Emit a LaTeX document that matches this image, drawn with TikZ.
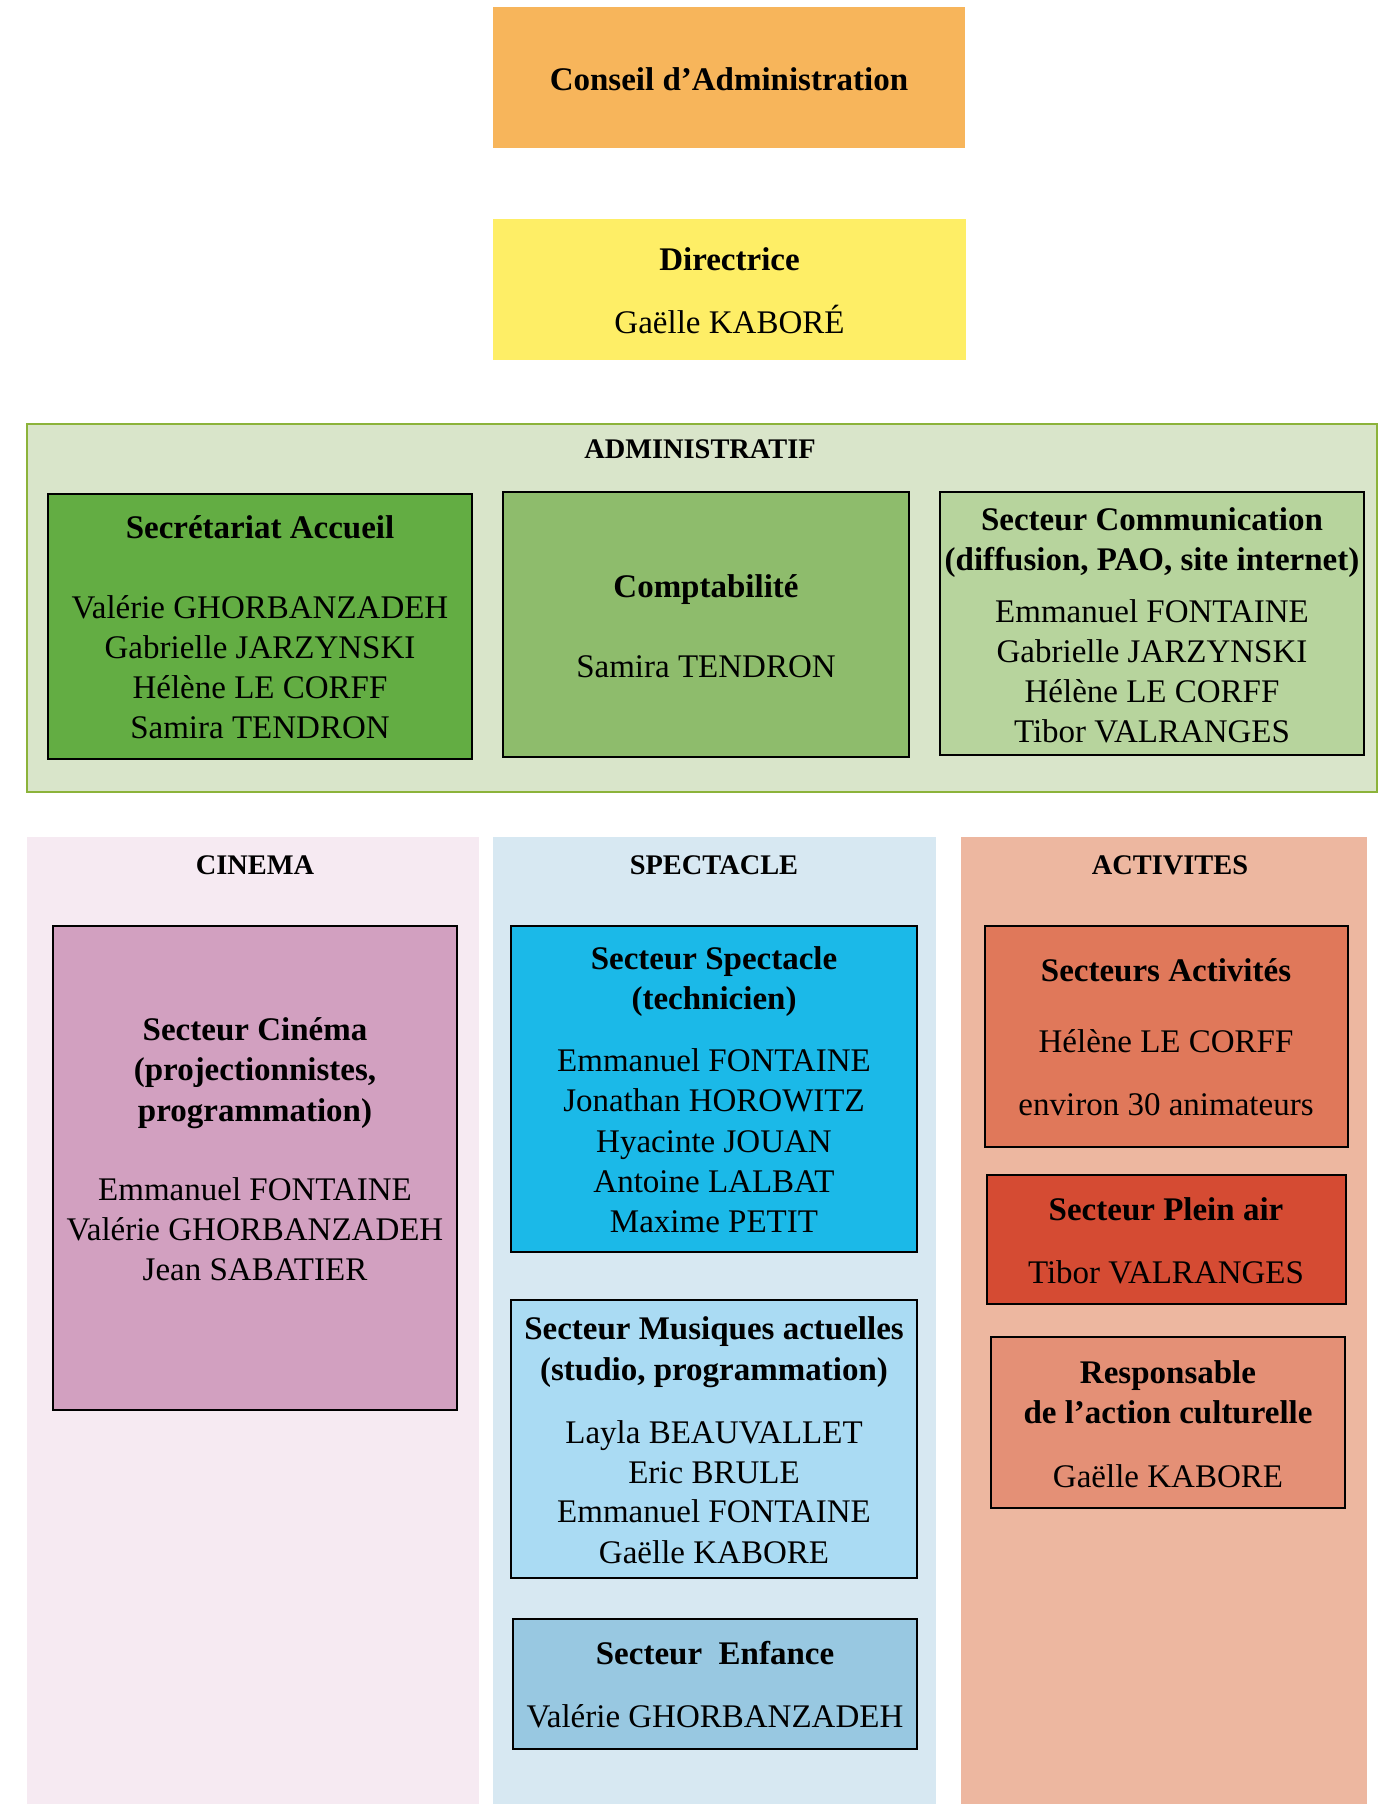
\documentclass[tikz,border=0pt]{standalone}
\usepackage{fontspec}
\setmainfont{Liberation Serif}
\usetikzlibrary{fit}
\definecolor{cConseil}{HTML}{F7B55B}
\definecolor{cDir}{HTML}{FEEE66}
\definecolor{cAdminBg}{HTML}{D9E5CA}
\definecolor{cAdminBd}{HTML}{8CB33A}
\definecolor{cSecr}{HTML}{63AD43}
\definecolor{cCompta}{HTML}{8EBC6C}
\definecolor{cComm}{HTML}{B7D49D}
\definecolor{cCinBg}{HTML}{F6EAF2}
\definecolor{cCin}{HTML}{D2A0C0}
\definecolor{cSpeBg}{HTML}{D7E8F2}
\definecolor{cSpe}{HTML}{1BB9E8}
\definecolor{cMus}{HTML}{AADBF3}
\definecolor{cEnf}{HTML}{98C8E1}
\definecolor{cActBg}{HTML}{EDB7A0}
\definecolor{cAct}{HTML}{E0785A}
\definecolor{cPlein}{HTML}{D54B33}
\definecolor{cResp}{HTML}{E49076}
\tikzset{
  x=0.5pt, y=-0.5pt,
  area/.style={inner sep=0pt, outer sep=0pt, draw=none},
  box/.style={inner sep=0pt, outer sep=0pt, draw=black, line width=1pt},
  ttl/.style={font=\bfseries\fontsize{16.5}{20}\selectfont, inner sep=0pt, text height=12pt, text depth=2pt},
  txt/.style={font=\fontsize{16.5}{20}\selectfont, inner sep=0pt, text height=12pt, text depth=2pt},
  hdr/.style={font=\bfseries\fontsize{14.2}{17}\selectfont, inner sep=0pt, text height=10.5pt, text depth=2pt}
}
\begin{document}
\begin{tikzpicture}
\useasboundingbox (0,0) rectangle (1388,1804);
\fill[white] (0,0) rectangle (1388,1804);
% top
\node[area, fill=cConseil, fit={(493,7) (965,148)}] (conseil) {};
\node[ttl] (conseilT) at (729,80) {Conseil d’Administration};
\node[area, fill=cDir, fit={(493,219) (966,360)}] (dir) {};
\node[ttl] (dirT) at (729.5,260) {Directrice};
\node[txt] (dirN) at (729.5,323) {Gaëlle KABORÉ};
% administratif
\node[area, fill=cAdminBg, draw=cAdminBd, line width=1pt, fit={(27,424) (1377,792)}] (admin) {};
\node[hdr] (adminT) at (700,450) {ADMINISTRATIF};
\node[box, fill=cSecr, fit={(48,494) (472,759)}] (secr) {};
\node[ttl] (secrT) at (260,528) {Secrétariat Accueil};
\node[txt] (secrA) at (260,608) {Valérie GHORBANZADEH};
\node[txt] (secrB) at (260,648) {Gabrielle JARZYNSKI};
\node[txt] (secrC) at (260,688) {Hélène LE CORFF};
\node[txt] (secrD) at (260,728) {Samira TENDRON};
\node[box, fill=cCompta, fit={(503,492) (909,757)}] (compta) {};
\node[ttl] (comptaT) at (706,587) {Comptabilité};
\node[txt] (comptaA) at (706,667) {Samira TENDRON};
\node[box, fill=cComm, fit={(940,492) (1364,755)}] (comm) {};
\node[ttl] (commT1) at (1152,520) {Secteur Communication};
\node[ttl] (commT2) at (1152,560) {(diffusion, PAO, site internet)};
\node[txt] (commA) at (1152,612) {Emmanuel FONTAINE};
\node[txt] (commB) at (1152,652) {Gabrielle JARZYNSKI};
\node[txt] (commC) at (1152,692) {Hélène LE CORFF};
\node[txt] (commD) at (1152,732) {Tibor VALRANGES};
% panels
\node[area, fill=cCinBg, fit={(27,837) (479,1810)}] (cinP) {};
\node[area, fill=cSpeBg, fit={(493,837) (936,1810)}] (speP) {};
\node[area, fill=cActBg, fit={(961,837) (1367,1810)}] (actP) {};
\node[hdr] (cinH) at (255,866) {CINEMA};
\node[hdr] (speH) at (714,866) {SPECTACLE};
\node[hdr] (actH) at (1170,866) {ACTIVITES};
% cinema
\node[box, fill=cCin, fit={(53,926) (457,1410)}] (cin) {};
\node[ttl] (cinT1) at (255,1030) {Secteur Cinéma};
\node[ttl] (cinT2) at (255,1070) {(projectionnistes,};
\node[ttl] (cinT3) at (255,1111) {programmation)};
\node[txt] (cinA) at (255,1190) {Emmanuel FONTAINE};
\node[txt] (cinB) at (255,1230) {Valérie GHORBANZADEH};
\node[txt] (cinC) at (255,1270) {Jean SABATIER};
% spectacle
\node[box, fill=cSpe, fit={(511,926) (917,1252)}] (spe) {};
\node[ttl] (speT1) at (714,959) {Secteur Spectacle};
\node[ttl] (speT2) at (714,999) {(technicien)};
\node[txt] (speA) at (714,1061) {Emmanuel FONTAINE};
\node[txt] (speB) at (714,1101) {Jonathan HOROWITZ};
\node[txt] (speC) at (714,1142) {Hyacinte JOUAN};
\node[txt] (speD) at (714,1182) {Antoine LALBAT};
\node[txt] (speE) at (714,1222) {Maxime PETIT};
\node[box, fill=cMus, fit={(511,1300) (917,1578)}] (mus) {};
\node[ttl] (musT1) at (714,1329) {Secteur Musiques actuelles};
\node[ttl] (musT2) at (714,1370) {(studio, programmation)};
\node[txt] (musA) at (714,1433) {Layla BEAUVALLET};
\node[txt] (musB) at (714,1473) {Eric BRULE};
\node[txt] (musC) at (714,1512) {Emmanuel FONTAINE};
\node[txt] (musD) at (714,1553) {Gaëlle KABORE};
\node[box, fill=cEnf, fit={(513,1619) (917,1749)}] (enf) {};
\node[ttl] (enfT) at (715,1654) {Secteur\ \ Enfance};
\node[txt] (enfA) at (715,1717) {Valérie GHORBANZADEH};
% activites
\node[box, fill=cAct, fit={(985,926) (1348,1147)}] (act) {};
\node[ttl] (actT) at (1166,971) {Secteurs Activités};
\node[txt] (actA) at (1166,1042) {Hélène LE CORFF};
\node[txt] (actB) at (1166,1105) {environ 30 animateurs};
\node[box, fill=cPlein, fit={(987,1175) (1346,1304)}] (plein) {};
\node[ttl] (pleinT) at (1166,1210) {Secteur Plein air};
\node[txt] (pleinA) at (1166,1273) {Tibor VALRANGES};
\node[box, fill=cResp, fit={(991,1337) (1345,1508)}] (resp) {};
\node[ttl] (respT1) at (1168,1373) {Responsable};
\node[ttl] (respT2) at (1168,1413) {de l’action culturelle};
\node[txt] (respA) at (1168,1477) {Gaëlle KABORE};
\end{tikzpicture}
\end{document}
